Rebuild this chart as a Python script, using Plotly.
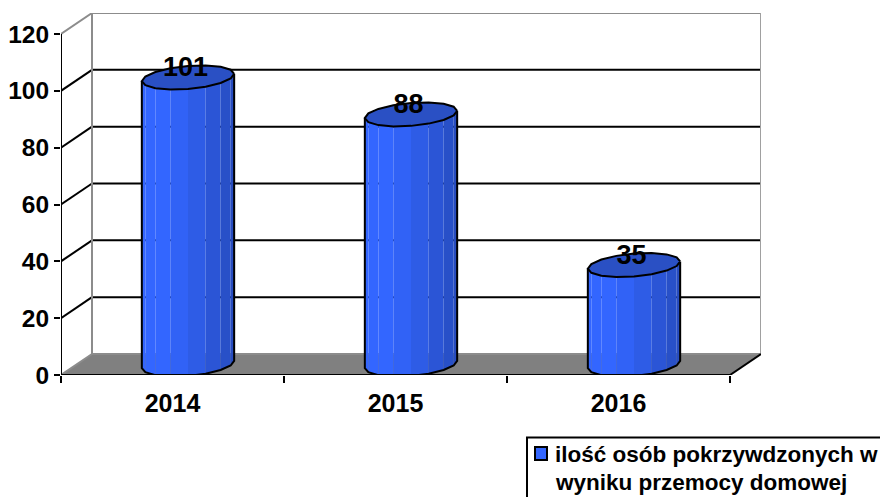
import math
import plotly.graph_objects as go

categories = ["2014", "2015", "2016"]
values = [101, 88, 35]
y_ticks = [0, 20, 40, 60, 80, 100, 120]
legend_lines = ["ilość osób pokrzywdzonych w", "wyniku przemocy domowej"]

OFF = 8                                 # page body margin around the figure
W, H = 888 - OFF, 497 - OFF
L, R, T, B = 61 - OFF, 761 - OFF, 13 - OFF, 375 - OFF
CAT_W = 223
PX_UNIT = 341 / 120
DEPTH_X, DEPTH_Y = 31, 21
FONT = "Liberation Sans"


def ux(px):
    return px / CAT_W


def uy(px):
    return px / PX_UNIT


def paper_x(px):
    return (px - OFF - L) / (R - L)


def paper_y(py):
    return (B - (py - OFF)) / (B - T)


x_max = (R - L) / CAT_W
y_max = (B - T) / PX_UNIT
x_front = len(categories)
dx, dy = ux(DEPTH_X), uy(DEPTH_Y)

fig = go.Figure()
shapes = []


def seg(x0, y0, x1, y1, color, width=2, layer="below"):
    shapes.append(dict(type="line", x0=x0, y0=y0, x1=x1, y1=y1, layer=layer,
                       line=dict(color=color, width=width)))


# floor
shapes.append(dict(type="path", layer="below", line=dict(width=0), fillcolor="#808080",
                   path=f"M 0 0 L {dx} {dy} L {x_front + dx} {dy} L {x_front} 0 Z"))
# walls and gridlines
for v in y_ticks:
    edge = "#8c8c8c" if v in (0, y_ticks[-1]) else "black"
    seg(0, v, dx, v + dy, edge)
    seg(dx, v + dy, x_front + dx, v + dy, edge)
seg(dx, dy, dx, y_ticks[-1] + dy, "#8c8c8c")
seg(x_front + dx, dy, x_front + dx, y_ticks[-1] + dy, "#a0a0a0")

# cylinders
N = 16
AX, BX, BY = 44, 14, 12
t0 = math.atan2(BX, AX)
ring = [t0 + 2 * math.pi * i / N for i in range(N + 1)]
ox = [ux(AX * math.cos(t) + BX * math.sin(t)) for t in ring]
oy = [uy(BY * math.sin(t)) for t in ring]
LIGHT = (0x33, 0x66, 0xFF)
DARK = (0x26, 0x4B, 0xBC)
CAP = "#2A50C4"


def shade(f):
    return "rgb" + str(tuple(round(a + (b - a) * f) for a, b in zip(LIGHT, DARK)))


for i, (cat, val) in enumerate(zip(categories, values)):
    cx = i + 0.5 + dx / 2
    cy = dy / 2
    xs = [cx + a for a in ox]
    low = [cy + b for b in oy]
    top = [cy + val + b for b in oy]
    half = N // 2
    idx = list(range(half, N + 1))
    for j in range(len(idx) - 1):
        a, b = idx[j], idx[j + 1]
        f = max(0.0, (xs[a] - xs[idx[0]]) / (xs[idx[-1]] - xs[idx[0]]) - 0.2) / 0.8
        fig.add_trace(go.Scatter(
            x=[xs[a], xs[b], xs[b], xs[a], xs[a]],
            y=[top[a], top[b], low[b], low[a], top[a]],
            mode="lines", fill="toself", fillcolor=shade(f), line=dict(width=0),
            showlegend=False, hoverinfo="skip"))
    # silhouette
    fig.add_trace(go.Scatter(
        x=[xs[idx[0]]] + [xs[k] for k in idx] + [xs[idx[-1]]],
        y=[top[idx[0]]] + [low[k] for k in idx] + [top[idx[-1]]],
        mode="lines", line=dict(color="black", width=2), showlegend=False, hoverinfo="skip"))
    # top cap
    fig.add_trace(go.Scatter(
        x=xs, y=top, mode="lines", fill="toself", fillcolor=CAP,
        line=dict(color="black", width=2), showlegend=False, hoverinfo="skip"))

# data labels
fig.add_trace(go.Scatter(
    x=[i + 0.5 + dx / 2 - ux(2.5) for i in range(len(values))],
    y=[v + dy / 2 + uy(8) for v in values],
    text=[str(v) for v in values], mode="text", textposition="middle center",
    textfont=dict(family=FONT, size=27, color="black", weight=700),
    showlegend=False, hoverinfo="skip", cliponaxis=False))

# front axes
seg(0, 0, 0, y_ticks[-1], "black", layer="above")
seg(0, 0, x_front, 0, "black", layer="above")
seg(x_front, 0, x_front + dx, dy, "black", layer="above")

# legend box, swatch and text
shapes.append(dict(type="rect", xref="paper", yref="paper", layer="above",
                   x0=paper_x(527), x1=paper_x(900), y0=paper_y(510), y1=paper_y(437.5),
                   fillcolor="white", line=dict(color="black", width=2)))
shapes.append(dict(type="rect", xref="paper", yref="paper", layer="above",
                   x0=paper_x(535), x1=paper_x(547), y0=paper_y(460), y1=paper_y(447),
                   fillcolor="#3366FF", line=dict(color="black", width=2)))
annotations = [
    dict(text=line, xref="paper", yref="paper", x=paper_x(554), y=paper_y(py),
         xanchor="left", yanchor="middle", showarrow=False, borderpad=0,
         font=dict(family=FONT, size=22.5, color="black", weight=700))
    for line, py in zip(legend_lines, [455, 483])
]

fig.update_layout(
    width=W, height=H, autosize=False,
    margin=dict(l=L, r=W - R, t=T, b=H - B, pad=0, autoexpand=False),
    paper_bgcolor="white", plot_bgcolor="white",
    shapes=shapes, annotations=annotations,
    showlegend=False,
    font=dict(family=FONT, color="black"),
    xaxis=dict(range=[0, x_max], showgrid=False, zeroline=False, showline=False, automargin=False,
               tickmode="array", tickvals=[i + 0.5 for i in range(len(categories))],
               ticktext=categories, ticks="outside", ticklen=6, tickcolor="rgba(0,0,0,0)",
               tickfont=dict(family=FONT, size=25, color="black", weight=700),
               minor=dict(tickmode="array", tickvals=list(range(len(categories) + 1)),
                          ticks="outside", ticklen=7, tickwidth=2, tickcolor="black", showgrid=False)),
    yaxis=dict(range=[0, y_max], showgrid=False, zeroline=False, showline=False, automargin=False,
               tickmode="array", tickvals=y_ticks, ticks="outside", ticklen=6, tickwidth=2,
               tickcolor="black",
               tickfont=dict(family=FONT, size=24.5, color="black", weight=700)),
)

fig.write_html("out.html")
